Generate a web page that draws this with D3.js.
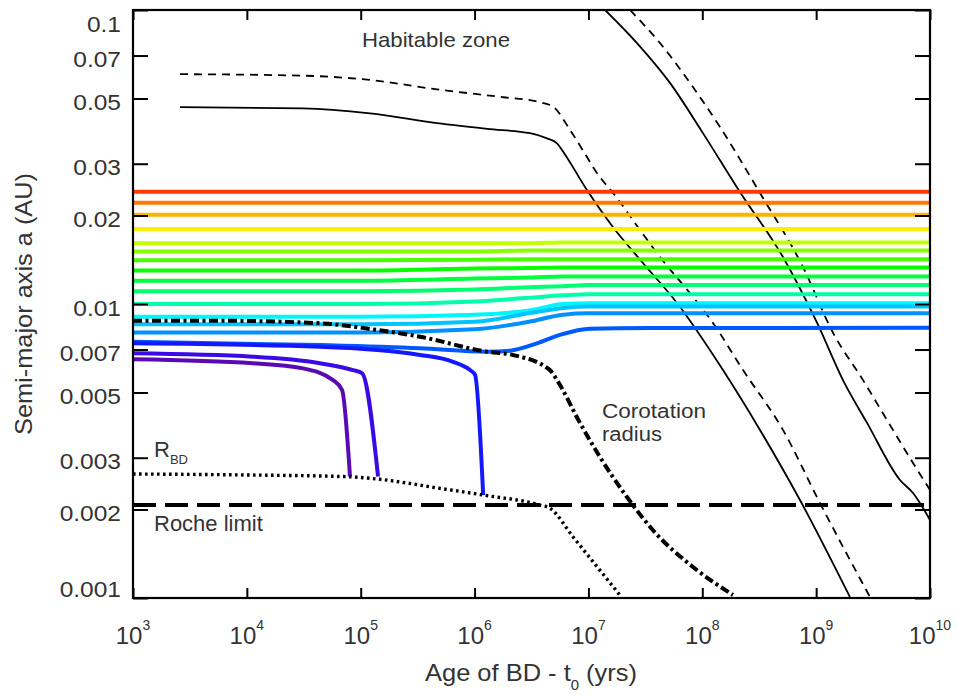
<!DOCTYPE html>
<html><head><meta charset="utf-8">
<script src="https://cdn.jsdelivr.net/npm/d3@7"></script>
<style>
body{margin:0;background:#fff}
svg text{font-family:"Liberation Sans",Arial,Helvetica,sans-serif;fill:#333}
</style></head><body>
<svg id="c" width="957" height="695"></svg>
<script>
// ---------- data ----------
const yTickValues=[0.1,0.07,0.05,0.03,0.02,0.01,0.007,0.005,0.003,0.002,0.001];
const yTickLabels=["0.1","0.07","0.05","0.03","0.02","0.01","0.007","0.005","0.003","0.002","0.001"];
const xTickValues=[1e3,1e4,1e5,1e6,1e7,1e8,1e9,1e10];
const xTickExponents=["3","4","5","6","7","8","9","10"];

// surviving planet orbits (common age grid)
const orbitAges=[1e3,1e5,1e6,3e6,6e6,1e7,1e10];
const orbit01=[0.0241,0.0241,0.0241,0.0241,0.0241,0.0241,0.0241];
const orbit02=[0.0221,0.0221,0.0221,0.0221,0.0221,0.0221,0.0221];
const orbit03=[0.0201,0.0201,0.0201,0.0201,0.0201,0.0201,0.0201];
const orbit04=[0.0180,0.0180,0.0180,0.0180,0.0180,0.0180,0.0180];
const orbit05=[0.0161,0.0161,0.0161,0.0161,0.0162,0.0162,0.0162];
const orbit06=[0.0151,0.0151,0.0151,0.0152,0.0152,0.0152,0.0152];
const orbit07=[0.0141,0.0141,0.01415,0.0142,0.0142,0.0142,0.0142];
const orbit08=[0.0130,0.0130,0.0132,0.01325,0.0133,0.0133,0.0133];
const orbit09=[0.0120,0.0120,0.0122,0.0123,0.0124,0.0124,0.0124];
const orbit10=[0.01105,0.01105,0.0112,0.0114,0.0115,0.0116,0.0116];
const orbit11=[0.0100,0.0100,0.0102,0.0105,0.0107,0.0108,0.0108];
const orbit12=[0.00905,0.00905,0.0092,0.0095,0.0100,0.01005,0.01005];
const orbit13=[0.00853,0.00853,0.0087,0.0093,0.0097,0.0098,0.0098];
const orbit14=[0.0080,0.0080,0.0082,0.0087,0.0092,0.0093,0.0093];
const orbitSeries=[orbit01,orbit02,orbit03,orbit04,orbit05,orbit06,orbit07,orbit08,orbit09,orbit10,orbit11,orbit12,orbit13,orbit14];
const orbitColors=["#ff3a00","#ff7a00","#ffb400","#ffee00","#c4ff00","#88ff00","#48ff00","#08ff00","#00ff3c","#00ff70","#00ffaa","#00f6ff","#00c4ff","#0090ff"];

// planet pushed outward after the dip
const riserAges=[1e3,4.39e4,3.32e5,1.29e6,2.05e6,3.53e6,5.62e6,1.03e7,3.47e7,1e10];
const riserValues=[0.00744,0.00725,0.00707,0.00688,0.00694,0.00735,0.00785,0.00824,0.00828,0.0083];
const riserColor="#0058ff";

// planets falling onto the BD
const fall1Ages=[1e3,4.39e4,3.32e5,6.46e5,9.12e5,1.01e6,1.19e6];
const fall1Values=[0.00735,0.00716,0.00671,0.00636,0.00596,0.00574,0.00224];
const fall1Color="#1418ff";
const fall2Ages=[1e3,1.13e4,4.39e4,8.55e4,1.03e5,1.42e5];
const fall2Values=[0.0068,0.00662,0.00629,0.00596,0.00581,0.00259];
const fall2Color="#3a0ae6";
const fall3Ages=[1e3,1.13e4,3.11e4,5.71e4,6.86e4,8.05e4];
const fall3Values=[0.00649,0.00629,0.00604,0.00551,0.0051,0.00259];
const fall3Color="#5a0ab4";

// habitable zone (two pairs: inner solid, outer dashed)
const hzInnerAAges=[2.59e3,3.11e4,1.21e5,4.68e5,1.29e6,3.07e6,4.33e6,5.3e6,5.98e6,9.71e6,1.64e7,3.01e7,6.0e7,1.52e8,3.21e8,7.21e8,1.98e9];
const hzInnerAValues=[0.0467,0.0463,0.0445,0.0412,0.0394,0.0381,0.0366,0.0352,0.0330,0.0244,0.01827,0.01379,0.01008,0.00596,0.00373,0.002154,0.001008];
const hzOuterAAges=[2.59e3,3.11e4,1.21e5,4.68e5,1.78e6,3.53e6,4.89e6,6.89e6,9.71e6,1.14e7,1.78e7,2.84e7,4.25e7,8.28e7,1.24e8,2.28e8,5.11e8,1.08e9,2.97e9];
const hzOuterAValues=[0.0605,0.0598,0.0578,0.0537,0.0505,0.0488,0.0469,0.0391,0.0316,0.02856,0.02294,0.01785,0.01445,0.01057,0.00862,0.00596,0.00373,0.002104,0.001008];
const hzInnerBAges=[1.40e7,2.67e7,5.2e7,1.01e8,2.14e8,5.11e8,1.02e9,1.72e9,2.8e9,5.45e9,7.09e9,1e10];
const hzInnerBValues=[0.1,0.0772,0.0565,0.0382,0.02404,0.01445,0.00862,0.00551,0.00394,0.00252,0.002276,0.001843];
const hzOuterBAges=[2.32e7,4.25e7,8.28e7,1.43e8,3.21e8,7.66e8,1.41e9,2.58e9,4.19e9,7.09e9,1e10];
const hzOuterBValues=[0.1,0.0772,0.0547,0.04,0.02386,0.01336,0.00797,0.00551,0.00403,0.00288,0.00233];

// corotation radius
const coroAges=[1e3,5.81e3,4.39e4,1.39e5,3.32e5,1.29e6,2.17e6,4.59e6,5.3e6,8.43e6,1.26e7,2.18e7,3.69e7,8.28e7,1.86e8];
const coroValues=[0.00877,0.00877,0.0086,0.00816,0.00774,0.00688,0.00671,0.00596,0.00551,0.00394,0.00302,0.002205,0.0017,0.001275,0.001024];

// BD radius
const rbdAges=[1e3,1.07e4,7.59e4,1.39e5,4.97e5,1.19e6,3.76e6,4.59e6,7.31e6,1.19e7,1.89e7];
const rbdValues=[0.002641,0.00262,0.002586,0.00254,0.00236,0.00224,0.00207,0.00202,0.001616,0.001278,0.001023];

// Roche limit
const rocheAges=[1e3,1e10];
const rocheValues=[0.00207,0.00207];

// ---------- drawing ----------
const L=133,R=930,T=10,B=598;
const svg=d3.select("#c");
const x=d3.scaleLog().domain([1e3,1e10]).range([L,R]);
const y=d3.scaleLog().domain([0.001,0.1]).range([B,T]);

svg.append("defs").append("clipPath").attr("id","clip")
  .append("rect").attr("x",L).attr("y",T).attr("width",R-L).attr("height",B-T);
const plot=svg.append("g").attr("clip-path","url(#clip)");

function path(ages,vals,curve){
  return d3.line().x((d,i)=>x(ages[i])).y(d=>y(d)).curve(curve||d3.curveMonotoneX)(vals);
}
function draw(ages,vals,opt){
  plot.append("path").attr("d",path(ages,vals,opt.curve))
    .attr("fill","none").attr("stroke",opt.color||"#000")
    .attr("stroke-width",opt.width||2)
    .attr("stroke-dasharray",opt.dash||null)
    .attr("stroke-linejoin","round");
}

// habitable zone
draw(hzInnerAAges,hzInnerAValues,{width:1.8});
draw(hzOuterAAges,hzOuterAValues,{width:1.8,dash:"8,6"});
draw(hzInnerBAges,hzInnerBValues,{width:1.8});
draw(hzOuterBAges,hzOuterBValues,{width:1.8,dash:"8,6"});

// orbits
orbitSeries.forEach((s,i)=>draw(orbitAges,s,{color:orbitColors[i],width:4}));
draw(riserAges,riserValues,{color:riserColor,width:4});
draw(fall1Ages,fall1Values,{color:fall1Color,width:4});
draw(fall2Ages,fall2Values,{color:fall2Color,width:4});
draw(fall3Ages,fall3Values,{color:fall3Color,width:4});

// special radii
draw(coroAges,coroValues,{width:4,dash:"9,3.5,3,3.5"});
draw(rbdAges,rbdValues,{width:3.4,dash:"2.6,3.4"});
draw(rocheAges,rocheValues,{width:4,dash:"23,9",curve:d3.curveLinear});

// axes (ticks inward)
function styleAxis(g){g.select(".domain").remove();g.selectAll("line").attr("stroke","#000").attr("stroke-width",2);}
svg.append("g").attr("transform",`translate(${L},0)`)
  .call(d3.axisLeft(y).tickValues(yTickValues).tickSize(-15).tickFormat("")).call(styleAxis);
svg.append("g").attr("transform",`translate(${R},0)`)
  .call(d3.axisRight(y).tickValues(yTickValues).tickSize(-15).tickFormat("")).call(styleAxis);
svg.append("g").attr("transform",`translate(0,${B})`)
  .call(d3.axisBottom(x).tickValues(xTickValues).tickSize(-10).tickFormat("")).call(styleAxis);
svg.append("g").attr("transform",`translate(0,${T})`)
  .call(d3.axisTop(x).tickValues(xTickValues).tickSize(-10).tickFormat("")).call(styleAxis);
svg.append("rect").attr("x",L).attr("y",T).attr("width",R-L).attr("height",B-T)
  .attr("fill","none").attr("stroke","#000").attr("stroke-width",2.2);

// y tick labels
yTickValues.forEach((v,i)=>{
  const base=Math.max(T+21.7,Math.min(B-1.3,y(v)+11.7));
  svg.append("text").attr("transform",`translate(${L-12},${base}) scale(1.14,1)`)
    .attr("text-anchor","end").attr("font-size",21.5).text(yTickLabels[i]);
});
// x tick labels
xTickValues.forEach((v,i)=>{
  const t=svg.append("text").attr("x",x(v)).attr("y",644).attr("text-anchor","middle").attr("font-size",24);
  t.append("tspan").text("10");
  t.append("tspan").attr("font-size",14).attr("dy",-14).text(xTickExponents[i]);
});

// axis titles
const xt=svg.append("text").attr("x",425).attr("y",681).attr("font-size",24)
  .attr("textLength",212).attr("lengthAdjust","spacingAndGlyphs");
xt.append("tspan").text("Age of BD - t");
xt.append("tspan").attr("font-size",14).attr("dy",9).text("0");
xt.append("tspan").attr("dy",-9).text(" (yrs)");
svg.append("text").attr("transform","translate(32,304) rotate(-90)")
  .attr("text-anchor","middle").attr("font-size",24)
  .attr("textLength",262).attr("lengthAdjust","spacingAndGlyphs")
  .text("Semi-major axis a (AU)");

// annotations
svg.append("text").attr("x",362).attr("y",47).attr("font-size",21)
  .attr("textLength",148).attr("lengthAdjust","spacingAndGlyphs").text("Habitable zone");
svg.append("text").attr("x",602).attr("y",418).attr("font-size",20)
  .attr("textLength",104).attr("lengthAdjust","spacingAndGlyphs").text("Corotation");
svg.append("text").attr("x",602).attr("y",441).attr("font-size",20)
  .attr("textLength",60).attr("lengthAdjust","spacingAndGlyphs").text("radius");
const rb=svg.append("text").attr("x",154).attr("y",457).attr("font-size",22);
rb.append("tspan").text("R");
rb.append("tspan").attr("font-size",13).attr("dy",7).text("BD");
svg.append("text").attr("x",154).attr("y",531).attr("font-size",22).text("Roche limit");
</script>
</body></html>
